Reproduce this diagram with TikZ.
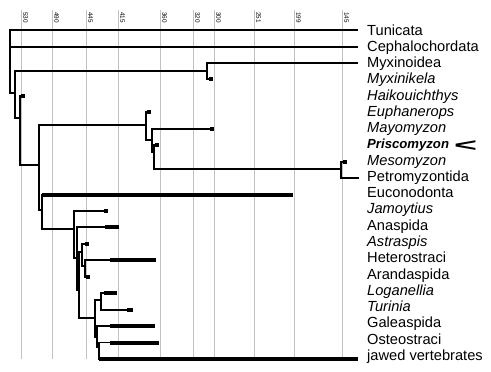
\documentclass[tikz,border=0pt]{standalone}
\usepackage{fontspec}
\setmainfont{Liberation Sans}
\begin{document}
\begin{tikzpicture}[x=1bp,y=-1bp,
  br/.style={line width=1.6bp, line cap=rect},
  bar/.style={line width=4bp},
  sq/.style={rectangle, fill=black, draw=none, inner sep=0pt, minimum size=3.8bp},
  lab/.style={anchor=base west, inner sep=0pt, font=\fontsize{14.7}{16}\selectfont},
  itl/.style={lab, font=\fontsize{14.7}{16}\selectfont\itshape},
  tk/.style={rotate=-90, inner sep=0pt, font=\fontsize{6.4}{7}\selectfont},
  gridline/.style={draw=black!24, line width=0.9bp}
]
\fill[white] (0,0) rectangle (491,371);
\useasboundingbox (0,0) rectangle (491,371);

% time scale
\foreach \gx/\gl in {21/530, 52/490, 86/445, 118/415, 160/360, 193/320, 214/300, 254/251, 294/199, 342/145}{
  \draw[gridline] (\gx,10) -- (\gx,359);
  \node[tk] (g\gl) at (\gx+4.5,17.5) {\gl};
}

% tree coordinates
\coordinate (R) at (10,93);
\coordinate (tunE) at (357,30);
\coordinate (cepE) at (357,47);
\coordinate (A) at (15,93);
\coordinate (Ab) at (15,118);
\coordinate (Mx) at (207,71);
\coordinate (myxE) at (357,63);
\node[sq] (mk) at (211,79) {};
\coordinate (B) at (20,118);
\node[sq] (hai) at (23,96) {};
\coordinate (Bb) at (20,165);
\coordinate (C) at (39,165);
\coordinate (Cb) at (39,210);
\coordinate (Dm) at (146,125);
\node[sq] (eup) at (149,112) {};
\coordinate (Db) at (146,140);
\coordinate (Em) at (152,140);
\node[sq] (may) at (212,129) {};
\coordinate (Eb) at (152,152);
\coordinate (Fm) at (154,152);
\node[sq] (pri) at (157,145) {};
\coordinate (Fb) at (154,169);
\coordinate (Gm) at (341,169);
\node[sq] (mes) at (345,162) {};
\coordinate (Gb) at (341,178);
\coordinate (petE) at (358,178);
\coordinate (Hm) at (42,210);
\coordinate (Ht) at (42,194.5);
\coordinate (eucE) at (293,194.5);
\coordinate (Hb) at (42,229);
\coordinate (Im) at (74,229);
\node[sq] (jam) at (106,211) {};
\coordinate (Ib) at (74,258);
\coordinate (Jm) at (77,258);
\coordinate (anaT) at (105,227);
\coordinate (anaE) at (119,227);
\coordinate (Jb) at (77,290);
\coordinate (Km) at (79,290);
\node[sq] (ast) at (87,244) {};
\coordinate (Pb) at (82,266);
\coordinate (Pm) at (82,252);
\coordinate (Kb) at (79,318);
\coordinate (Qm) at (85,266);
\coordinate (hetT) at (110,260);
\coordinate (hetE) at (156,260);
\coordinate (Qb) at (85,277);
\node[sq] (ara) at (88,277) {};
\coordinate (Lm) at (95,318);
\coordinate (Mm) at (101,300);
\coordinate (Lb) at (95,337);
\coordinate (logT) at (104,293);
\coordinate (logE) at (117,293);
\coordinate (Mb) at (101,310);
\coordinate (turT) at (127,310);
\coordinate (turE) at (133,310);
\coordinate (Nm) at (97,337);
\coordinate (galT) at (110,326);
\coordinate (galE) at (155,326);
\coordinate (Nb) at (97,347);
\coordinate (Om) at (99,347);
\coordinate (ostT) at (110,342.5);
\coordinate (ostE) at (159,342.5);
\coordinate (Ob) at (99,359);
\coordinate (jawE) at (358,359);

% branches
\draw[br] (tunE) -| (R);
\draw[br] (cepE) -| (R);
\draw[br] (R) -- (A);
\draw[br] (Mx) -| (Ab);
\draw[br] (myxE) -| (Mx);
\draw[br] (mk.center) -| (Mx);
\draw[br] (Ab) -- (B);
\draw[br] (hai.center) -| (Bb);
\draw[br] (Bb) -- (C);
\draw[br] (Dm) -| (Cb);
\draw[br] (eup.center) -| (Db);
\draw[br] (Db) -- (Em);
\draw[br] (may.center) -| (Eb);
\draw[br] (Eb) -- (Fm);
\draw[br] (pri.center) -| (Fb);
\draw[br] (Fb) -- (Gm);
\draw[br] (mes.center) -| (Gb);
\draw[br] (Gb) -- (petE);
\draw[br] (Cb) -- (Hm);
\draw[br] (Ht) -- (Hb);
\draw[bar] (Ht) -- (eucE);
\draw[br] (Hb) -- (Im);
\draw[br] (jam.center) -| (Ib);
\draw[br] (Ib) -- (Jm);
\draw[br] (anaT) -| (Jb);
\draw[bar] (anaT) -- (anaE);
\draw[br] (Jb) -- (Km);
\draw[br] (ast.center) -| (Pb);
\draw[br] (Pm) -| (Kb);
\draw[br] (Pb) -- (Qm);
\draw[br] (hetT) -| (Qb);
\draw[br] (Qb) -- (ara.center);
\draw[bar] (hetT) -- (hetE);
\draw[br] (Kb) -- (Lm);
\draw[br] (Mm) -| (Lb);
\draw[br] (logT) -| (Mb);
\draw[bar] (logT) -- (logE);
\draw[br] (Mb) -- (turT);
\draw[bar] (turT) -- (turE);
\draw[br] (Lb) -- (Nm);
\draw[br] (galT) -| (Nb);
\draw[bar] (galT) -- (galE);
\draw[br] (Nb) -- (Om);
\draw[br] (ostT) -| (Ob);
\draw[bar] (ostT) -- (ostE);
\draw[bar] (Ob) -- (jawE);

% labels
\node[lab] (tun) at (367,35) {Tunicata};
\node[lab] (cep) at (367,51.27) {Cephalochordata};
\node[lab] (myx) at (367,67.54) {Myxinoidea};
\node[itl] (myk) at (367,83.81) {Myxinikela};
\node[itl] (hak) at (367,100.08) {Haikouichthys};
\node[itl] (euph) at (367,116.35) {Euphanerops};
\node[itl] (mayo) at (367,132.62) {Mayomyzon};
\node[lab, font=\fontsize{13.2}{16}\selectfont\bfseries\itshape] (pris) at (367,148.89) {Priscomyzon};
\node[anchor=base west, inner sep=0pt] (mark) at (454,151) {\scalebox{2.2}[1]{\fontsize{18}{18}\selectfont\bfseries <}};
\node[itl] (meso) at (367,165.16) {Mesomyzon};
\node[lab] (petr) at (367,181.43) {Petromyzontida};
\node[lab] (euco) at (367,197.7) {Euconodonta};
\node[itl] (jamo) at (367,213.97) {Jamoytius};
\node[lab] (anas) at (367,230.24) {Anaspida};
\node[itl] (astr) at (367,246.51) {Astraspis};
\node[lab] (hete) at (367,262.78) {Heterostraci};
\node[lab] (aran) at (367,279.05) {Arandaspida};
\node[itl] (loga) at (367,295.32) {Loganellia};
\node[itl] (turi) at (367,311.59) {Turinia};
\node[lab] (gale) at (367,327.86) {Galeaspida};
\node[lab] (oste) at (367,344.13) {Osteostraci};
\node[lab] (jawv) at (367,360.4) {jawed vertebrates};
\end{tikzpicture}
\end{document}
